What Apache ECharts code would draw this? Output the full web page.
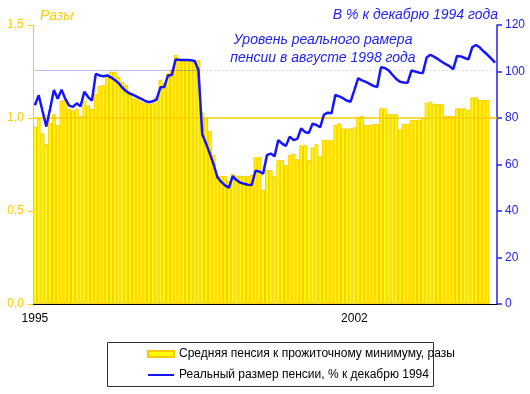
<!DOCTYPE html>
<html><head><meta charset="utf-8">
<script src="https://cdn.jsdelivr.net/npm/echarts@6/dist/echarts.min.js"></script>
<style>html,body{margin:0;padding:0;background:#fff}#c{width:530px;height:394px}</style>
</head><body><div id="c"></div>
<script>
// Monthly categories Jan 1995 .. Feb 2005
const startYear = 1995;
const monthCount = 122;
const tickIndex = [0, 84];
const tickLabels = ['1995', '2002'];

// Average pension / subsistence minimum, times (Jan 1995 .. Dec 2004)
const pensionRatio = [
 0.953,0.998,0.918,0.860,0.975,1.020,0.962,1.093,1.100,1.050,1.040,1.050,
 1.010,1.090,1.068,1.048,1.130,1.172,1.178,1.226,1.249,1.249,1.222,1.195,
 1.177,1.141,1.106,1.100,1.088,1.079,1.074,1.079,1.115,1.204,1.187,1.240,
 1.260,1.339,1.322,1.310,1.310,1.310,1.310,1.310,1.030,1.000,0.930,0.800,
 0.688,0.688,0.688,0.660,0.700,0.690,0.690,0.688,0.688,0.694,0.789,0.789,
 0.613,0.720,0.720,0.688,0.774,0.774,0.747,0.800,0.806,0.778,0.853,0.853,
 0.774,0.842,0.859,0.796,0.882,0.882,0.880,0.962,0.971,0.944,0.944,0.944,
 0.950,1.004,1.011,0.962,0.962,0.968,0.968,1.052,1.052,1.022,1.020,1.020,
 0.939,0.968,0.968,0.990,0.990,0.990,0.998,1.082,1.088,1.075,1.075,1.075,
 1.011,1.011,1.011,1.052,1.052,1.052,1.043,1.111,1.111,1.097,1.097,1.097
];

// Real pension, % of December 1994 (Jan 1995 .. Feb 2005)
const realPension = [
 85.5,89.8,83.0,76.3,84.0,92.0,88.3,92.2,88.2,85.3,84.8,86.3,
 85.0,91.3,89.0,87.5,99.0,98.3,98.0,98.3,97.5,96.3,95.0,93.0,
 91.5,90.5,89.8,89.0,88.2,87.3,86.8,87.2,88.0,93.2,93.3,98.3,
 98.5,105.2,105.0,105.0,105.0,104.8,104.5,100.6,73.0,69.0,64.7,60.0,
 54.5,52.5,51.0,50.0,55.0,53.3,52.2,51.7,51.3,51.2,57.3,57.0,
 56.0,64.0,64.7,63.5,70.5,69.0,68.0,72.0,70.5,71.0,75.5,74.0,
 73.5,77.5,77.0,76.0,81.5,82.3,82.0,89.9,89.3,88.5,87.5,87.0,
 92.0,97.1,96.2,95.5,94.7,93.8,93.3,101.8,101.5,100.5,98.6,96.8,
 95.6,95.3,95.2,100.4,100.0,99.5,99.3,106.0,107.2,106.3,105.3,104.2,
 103.2,102.3,101.0,106.7,106.5,105.8,105.2,110.5,111.4,110.3,108.6,107.2,
 105.5,103.8
];

const aug1998Index = 43;
const aug1998Level = 100.6;
const ratioRef = 1.0;

const categories = [];
for (let i = 0; i < monthCount; i++) {
  const y = startYear + Math.floor(i / 12), m = (i % 12) + 1;
  categories.push(y + '-' + (m < 10 ? '0' + m : m));
}

const FONT = '"Liberation Sans", Arial, sans-serif';
const chart = echarts.init(document.getElementById('c'), null, {renderer: 'canvas'});
chart.setOption({
  animation: false,
  backgroundColor: '#fff',
  textStyle: {fontFamily: FONT},
  grid: {left: 33, right: 33, top: 25, height: 279},
  xAxis: {
    type: 'category', data: categories, boundaryGap: true,
    axisLine: {lineStyle: {color: '#000', width: 1}},
    axisTick: {show: false},
    axisLabel: {
      interval: (idx) => tickIndex.indexOf(idx) >= 0,
      formatter: (v, idx) => { const k = tickIndex.indexOf(idx); return k >= 0 ? tickLabels[k] : ''; },
      color: '#000', fontSize: 12, margin: 9, fontFamily: FONT
    },
    splitLine: {show: false}
  },
  yAxis: [{
    type: 'value', min: 0, max: 1.5, interval: 0.5, position: 'left',
    axisLine: {show: true, lineStyle: {color: '#FFCC00', width: 1}},
    axisTick: {show: true, inside: false, length: 5, lineStyle: {color: '#FFCC00'}},
    axisLabel: {color: '#FFCC00', fontSize: 12, margin: 9, fontFamily: FONT,
      formatter: v => v.toFixed(1).replace('.', ',')},
    splitLine: {show: false}
  }, {
    type: 'value', min: 0, max: 120, interval: 20, position: 'right',
    axisLine: {show: true, lineStyle: {color: '#2222EE', width: 1.5}},
    axisTick: {show: true, inside: false, length: 5, lineStyle: {color: '#2222EE', width: 1.5}},
    axisLabel: {color: '#2222EE', fontSize: 12, margin: 8, fontFamily: FONT},
    splitLine: {show: false}
  }],
  legend: {
    orient: 'vertical', left: 142, top: 343, itemWidth: 26, itemHeight: 6, itemGap: 9,
    textStyle: {color: '#000', fontSize: 12, fontFamily: FONT},
    data: [
      {name: 'Средняя пенсия к прожиточному минимуму, разы', icon: 'rect'},
      {name: 'Реальный размер пенсии, % к декабрю 1994', itemStyle: {opacity: 0}}
    ]
  },
  series: [{
    name: 'Средняя пенсия к прожиточному минимуму, разы',
    type: 'bar', yAxisIndex: 0, data: pensionRatio,
    barCategoryGap: '0%',
    itemStyle: {color: '#FFFF00', borderColor: '#FFC800', borderWidth: 1},
    markLine: {
      silent: true, symbol: ['none', 'none'], label: {show: false},
      lineStyle: {color: '#FFCC00', width: 1.5, type: 'solid'},
      data: [{yAxis: ratioRef}]
    }
  }, {
    name: 'Реальный размер пенсии, % к декабрю 1994',
    type: 'line', yAxisIndex: 1, data: realPension,
    symbol: 'none', smooth: false,
    lineStyle: {color: '#1515FF', width: 2.5},
    itemStyle: {color: '#1515FF'},
    z: 5,
    markLine: {
      silent: true, symbol: ['none', 'none'], label: {show: false},
      data: [
        [{coord: [0, aug1998Level], lineStyle: {color: 'rgba(90,90,200,0.4)', width: 1.2, type: 'solid'}},
         {coord: [aug1998Index, aug1998Level]}],
        [{coord: [aug1998Index, aug1998Level], lineStyle: {color: '#B8B8F0', width: 1, type: [1, 3]}},
         {coord: [monthCount - 1, aug1998Level]}]
      ]
    }
  }],
  graphic: [
    {type: 'text', left: 40, top: 9, style: {text: 'Разы', fill: '#FFCC00', font: 'italic 14px ' + FONT}},
    {type: 'text', right: 32, top: 8, style: {text: 'В % к декабрю 1994 года', fill: '#2222EE', font: 'italic 14px ' + FONT, textAlign: 'right'}},
    {type: 'text', x: 323, y: 40, style: {text: 'Уровень реального рамера', fill: '#2222EE', font: 'italic 14px ' + FONT, align: 'center', verticalAlign: 'middle'}},
    {type: 'text', x: 323, y: 58, style: {text: 'пенсии в августе 1998 года', fill: '#2222EE', font: 'italic 14px ' + FONT, align: 'center', verticalAlign: 'middle'}},
    {type: 'rect', shape: {x: 107.5, y: 342.5, width: 326, height: 44}, style: {fill: 'none', stroke: '#333', lineWidth: 1}, z: -1}
  ]
});
</script>
</body></html>
